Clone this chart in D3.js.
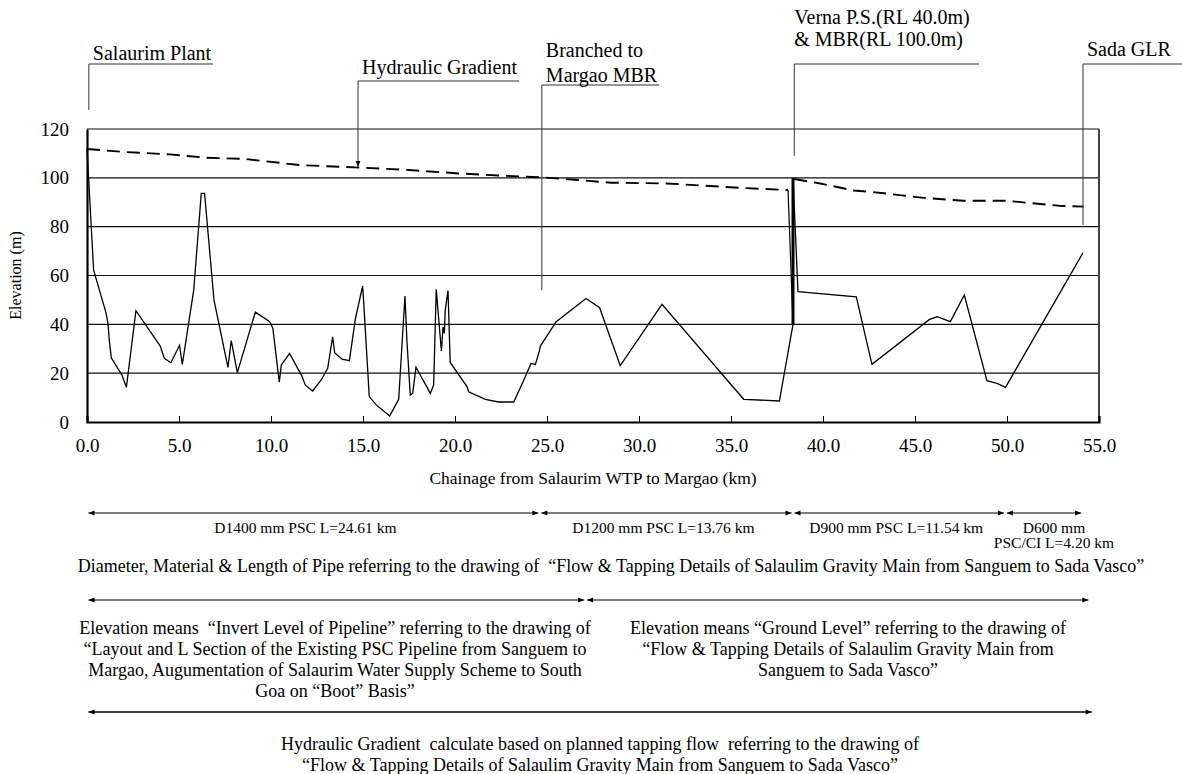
<!DOCTYPE html>
<html>
<head>
<meta charset="utf-8">
<script src="https://cdn.jsdelivr.net/npm/d3@7"></script>
<style>
  body { margin: 0; background: #fff; }
  svg text { font-family: "Liberation Serif", "Times New Roman", "DejaVu Serif", serif; fill: #000; white-space: pre; }
</style>
</head>
<body>
<script>
// ground / invert profile along the main
const chainage = [0, 0.36, 1.03, 1.14, 1.21, 1.32, 1.9, 2.14, 2.66, 3.98, 4.2, 4.56, 5.03, 5.18, 5.8, 6.21, 6.39, 6.9,
  7.66, 7.84, 8.17, 9.15, 9.93, 10.1, 10.45, 10.56, 11.01, 11.68, 11.86, 12.26, 12.73, 13.08, 13.35, 13.46, 13.86,
  14.26, 14.58, 14.98, 15.03, 15.34, 15.72, 16.45, 16.94, 17.28, 17.39, 17.57, 17.7, 17.88, 18.66, 18.84, 18.98,
  19.26, 19.35, 19.42, 19.47, 19.62, 19.74, 20.65, 20.74, 21.65, 22.37, 23.19, 23.7, 24.13, 24.37, 24.6, 24.64,
  25.5, 27.12, 27.86, 28.98, 31.25, 35.69, 37.63, 38.37, 38.37, 38.64, 41.81, 42.66, 45.79, 46.2, 46.92, 47.68,
  48.91, 49.46, 49.92, 54.13];
const elevation = [112, 62.2, 44.8, 40.4, 33.6, 26.3, 19.2, 14.2, 45.6, 31.1, 26.1, 24.3, 31.4, 23.6, 54, 93.6, 93.6, 50,
  22.4, 33.3, 20.2, 45, 41.1, 38.4, 16.3, 23.3, 28.1, 18.8, 15.2, 12.7, 17.2, 22, 34.9, 28.4, 25.7,
  25.1, 42, 55.7, 50, 10.4, 7, 2.5, 9.3, 51.6, 32.9, 11, 11.7, 22.4, 11.7, 15.2, 54.3,
  29.1, 39, 36.3, 45.9, 53.8, 24.4, 14.5, 12.4, 9.3, 8.2, 8.2, 16.5, 24, 23.6, 29.5, 31.1,
  41.1, 50.6, 46.8, 23.1, 48.2, 9.3, 8.6, 40, 100, 53.4, 51.3, 23.6, 42, 43.1, 41.1, 52,
  16.9, 15.8, 14.2, 69.3];

// hydraulic gradient, before and after Verna P.S.
const hgChainage1 = [0, 2, 4.5, 6.5, 8.5, 11.6, 14.8, 17.5, 20.2, 22.5, 24.7, 26.7, 28.5, 31.5, 35.5, 38.1];
const hgLevel1 = [111.8, 110.6, 109.6, 108.2, 107.8, 105.2, 104.2, 103.2, 101.8, 100.9, 100.2, 99.1, 98, 97.7, 95.9, 95];
const hgChainage2 = [38.44, 39.85, 41.67, 42.57, 45.47, 47.64, 50, 52.9, 54.16];
const hgLevel2 = [99.5, 97.7, 94.8, 94.3, 91.8, 90.6, 90.6, 88.5, 88.2];
// drop into the sump at Verna P.S. (RL 40) and pumping up to MBR (RL 100)
const pumpChainage = [38.1, 38.37, 38.37];
const pumpLevel = [95, 40, 100];

const xTicks = [0, 5, 10, 15, 20, 25, 30, 35, 40, 45, 50, 55];
const yTicks = [0, 20, 40, 60, 80, 100, 120];

// pipe sections
const pipeLengths = [24.61, 13.76, 11.54, 4.20];
const pipeLabels = [["D1400 mm PSC L=24.61 km"], ["D1200 mm PSC L=13.76 km"], ["D900 mm PSC L=11.54 km"],
  ["D600 mm", "PSC/CI L=4.20 km"]];

// elevation sources
const sourceRanges = [[0, 27.1], [27.1, 54.5]];
const sourceLabels = [
  ["Elevation means  \u201cInvert Level of Pipeline\u201d referring to the drawing of",
   "\u201cLayout and L Section of the Existing PSC Pipeline from Sanguem to",
   "Margao, Augumentation of Salaurim Water Supply Scheme to South",
   "Goa on \u201cBoot\u201d Basis\u201d"],
  ["Elevation means \u201cGround Level\u201d referring to the drawing of",
   "\u201cFlow & Tapping Details of Salaulim Gravity Main from",
   "Sanguem to Sada Vasco\u201d"]];
const hgRange = [0, 54.6];
const hgNote = ["Hydraulic Gradient  calculate based on planned tapping flow  referring to the drawing of",
  "\u201cFlow & Tapping Details of Salaulim Gravity Main from Sanguem to Sada Vasco\u201d"];
const pipeNote = "Diameter, Material & Length of Pipe referring to the drawing of  \u201cFlow & Tapping Details of Salaulim Gravity Main from Sanguem to Sada Vasco\u201d";

// callouts: label lines, chainage of leader, leader end level
const calloutLabels = [["Salaurim Plant"], ["Hydraulic Gradient"], ["Branched to", "Margao MBR"],
  ["Verna P.S.(RL 40.0m)", "& MBR(RL 100.0m)"], ["Sada GLR"]];
const calloutChainage = [0.1, 14.73, 24.72, 38.44, 54.13];
const calloutEnd = [127.8, 104.4, 54, 109, 80.7];

const SERIF = '"Liberation Serif", "Times New Roman", "DejaVu Serif", serif';
const W = 1182, H = 774;
const svg = d3.select("body").append("svg").attr("width", W).attr("height", H);

const x = d3.scaleLinear().domain([0, 55]).range([87, 1099]);
const y = d3.scaleLinear().domain([0, 120]).range([422, 129]);

const defs = svg.append("defs");
defs.append("marker").attr("id", "arr").attr("viewBox", "0 0 10 10")
  .attr("refX", 10).attr("refY", 5).attr("markerWidth", 7).attr("markerHeight", 6)
  .attr("markerUnits", "userSpaceOnUse").attr("orient", "auto-start-reverse")
  .append("path").attr("d", "M0,1 L10,5 L0,9 Z").attr("fill", "#000");

function txt(sel, size) {
  return sel.append("text").style("font-family", SERIF).style("font-size", size + "px");
}

// gridlines
svg.append("g").selectAll("line").data(yTicks.filter(d => d > 0)).join("line")
  .attr("x1", x(0)).attr("x2", x(55)).attr("y1", d => y(d)).attr("y2", d => y(d))
  .attr("stroke", "#111").attr("stroke-width", 1.2);
// right border
svg.append("line").attr("x1", x(55)).attr("x2", x(55)).attr("y1", y(0)).attr("y2", y(120))
  .attr("stroke", "#444").attr("stroke-width", 2);

// axes
const xAxis = svg.append("g").attr("transform", `translate(0,${y(0)})`)
  .call(d3.axisBottom(x).tickValues(xTicks).tickSize(-6).tickPadding(17).tickFormat(d3.format(".1f")));
xAxis.select(".domain").attr("stroke-width", 2.2);
xAxis.selectAll(".tick line").attr("stroke-width", 1);
xAxis.selectAll("text").style("font-family", SERIF).style("font-size", "19px");

const yAxis = svg.append("g").attr("transform", `translate(${x(0)},0)`)
  .call(d3.axisLeft(y).tickValues(yTicks).tickSize(0).tickPadding(18));
yAxis.select(".domain").attr("stroke-width", 2.2);
yAxis.selectAll("text").style("font-family", SERIF).style("font-size", "19px");

txt(svg, 16).attr("transform", `translate(21,${(y(0) + y(120)) / 2}) rotate(-90)`)
  .attr("text-anchor", "middle").text("Elevation (m)");
txt(svg, 17.5).attr("x", (x(0) + x(55)) / 2).attr("y", 484).attr("text-anchor", "middle")
  .text("Chainage from Salaurim WTP to Margao (km)");

// profile and gradient
const line = d3.line().x(d => x(d[0])).y(d => y(d[1]));
svg.append("path").datum(d3.zip(chainage, elevation)).attr("d", line)
  .attr("fill", "none").attr("stroke", "#000").attr("stroke-width", 1.3);
[d3.zip(hgChainage1, hgLevel1), d3.zip(hgChainage2, hgLevel2)].forEach(seg => {
  svg.append("path").datum(seg).attr("d", line)
    .attr("fill", "none").attr("stroke", "#000").attr("stroke-width", 1.9).attr("stroke-dasharray", "13,7");
});
const pump = d3.zip(pumpChainage, pumpLevel);
svg.append("path").datum(pump.slice(0, 2)).attr("d", line)
  .attr("fill", "none").attr("stroke", "#000").attr("stroke-width", 1.2);
svg.append("path").datum(pump.slice(1)).attr("d", line)
  .attr("fill", "none").attr("stroke", "#000").attr("stroke-width", 3);

// callouts
const leaderTop = [64, 81, 85, 64, 64];
const labelBase = [[60], [74], [57, 82], [24, 46], [56]];
const leaderRight = [213, 519, 659, 979, 1182];
calloutLabels.forEach((lines, i) => {
  const lx = x(calloutChainage[i]);
  const g = svg.append("g");
  g.append("line").attr("x1", lx).attr("x2", leaderRight[i]).attr("y1", leaderTop[i]).attr("y2", leaderTop[i])
    .attr("stroke", "#333").attr("stroke-width", 1);
  const v = g.append("line").attr("x1", lx).attr("x2", lx).attr("y1", leaderTop[i]).attr("y2", y(calloutEnd[i]))
    .attr("stroke", "#333").attr("stroke-width", 1);
  if (i === 1) v.attr("marker-end", "url(#arr)");
  lines.forEach((t, j) => {
    txt(g, 20).attr("x", lx + (i === 3 ? 0 : 4)).attr("y", labelBase[i][j]).text(t);
  });
});

// dimension arrows
function dimArrow(a, b, yy, w) {
  svg.append("line").attr("x1", x(a)).attr("x2", x(b)).attr("y1", yy).attr("y2", yy)
    .attr("stroke", "#000").attr("stroke-width", w || 1)
    .attr("marker-start", "url(#arr)").attr("marker-end", "url(#arr)");
}
let start = 0;
pipeLengths.forEach((len, i) => {
  const a = start, b = start + len;
  dimArrow(a + 0.08, b - 0.08, 513);
  const cx = (x(a) + x(b)) / 2 + (i === 3 ? 10 : i === 0 ? -8 : -3);
  pipeLabels[i].forEach((t, j) => {
    txt(svg, 15.5).attr("x", cx).attr("y", 533 + j * 15).attr("text-anchor", "middle").text(t);
  });
  start = b;
});
txt(svg, 18).attr("x", 611).attr("y", 572).attr("text-anchor", "middle").text(pipeNote);

sourceRanges.forEach((r, i) => {
  dimArrow(r[0] + 0.08, r[1] - 0.08, 600);
  const cx = i === 0 ? 335 : 848;
  sourceLabels[i].forEach((t, j) => {
    txt(svg, 18).attr("x", cx).attr("y", 634 + j * 21).attr("text-anchor", "middle").text(t);
  });
});
dimArrow(hgRange[0] + 0.08, hgRange[1], 712, 1.4);
hgNote.forEach((t, j) => {
  txt(svg, 18).attr("x", 600).attr("y", 750 + j * 21).attr("text-anchor", "middle").text(t);
});
</script>
</body>
</html>
